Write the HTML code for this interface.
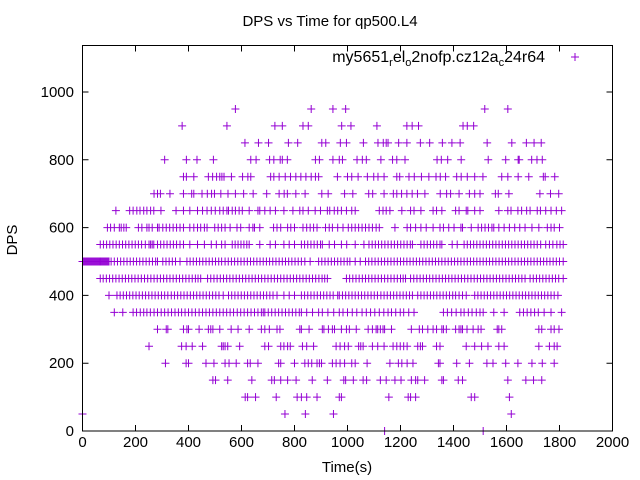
<!DOCTYPE html>
<html><head><meta charset="utf-8"><style>
body{margin:0;background:#fff}
svg{display:block;font-family:"Liberation Sans",sans-serif}
</style></head><body>
<svg id="chart" width="640" height="480" viewBox="0 0 640 480" xmlns="http://www.w3.org/2000/svg">
<rect width="640" height="480" fill="#fff"/>
<text x="330" y="26" text-anchor="middle" font-size="15">DPS vs Time for qp500.L4</text>
<text x="347" y="472" text-anchor="middle" font-size="15">Time(s)</text>
<text x="17" y="240" text-anchor="middle" font-size="15" transform="rotate(-90 17 240)">DPS</text>
<g id="ticks"></g>
<g id="marks"></g>
<g>
<text x="545" y="62" text-anchor="end" font-size="16">my5651<tspan font-size="11" dy="4">r</tspan><tspan dy="-4">el</tspan><tspan font-size="11" dy="4">o</tspan><tspan dy="-4">2nofp.cz12a</tspan><tspan font-size="11" dy="4">c</tspan><tspan dy="-4">24r64</tspan></text>
<path d="M571 57h8M575 53v8" stroke="#9400d3" stroke-width="1"/>
</g>
<rect x="82.5" y="45.5" width="530" height="385.5" fill="none" stroke="#000" stroke-width="1"/>
</svg>
<script>
const xTicks=[0,200,400,600,800,1000,1200,1400,1600,1800,2000];
const yTicks=[0,200,400,600,800,1000];
const levels=[0,50,100,150,200,250,300,350,400,450,500,550,600,650,700,750,800,850,900,950];
const t0=[1140,1512];
const t50=[0,764,841,947,1618];
const t100=[614,623,653,731,810,826,846,885,969,977,1156,1229,1238,1257,1467,1480,1611];
const t150=[492,502,548,639,714,724,748,774,806,867,924,986,993,1022,1059,1072,1124,1146,1179,1202,1241,1257,1265,1291,1356,1362,1418,1434,1605,1673,1702,1733];
const t200=[313,391,400,466,496,538,553,580,623,633,662,740,748,800,839,852,865,885,894,902,943,957,972,989,1016,1029,1074,1160,1192,1205,1225,1247,1343,1349,1412,1460,1526,1549,1597,1643,1696,1735,1780];
const t250=[251,374,391,414,453,525,531,538,548,593,688,702,748,760,774,784,830,846,872,957,972,989,1003,1042,1050,1059,1094,1114,1138,1172,1186,1199,1212,1225,1265,1275,1283,1336,1349,1448,1480,1506,1530,1571,1591,1722,1762,1780,1791];
const t300=[283,316,322,381,394,400,440,475,484,492,518,561,587,629,675,688,705,734,745,820,826,855,905,911,928,943,951,977,996,1007,1033,1078,1094,1108,1114,1124,1134,1140,1166,1241,1271,1283,1303,1323,1336,1356,1362,1373,1408,1421,1428,1434,1451,1474,1493,1504,1565,1571,1582,1722,1733,1768,1780,1798];
const t350=[120,152,191,204,218,231,243,256,270,283,297,310,323,336,349,362,374,387,400,413,426,440,453,466,479,492,505,518,531,544,557,570,584,597,610,623,636,649,662,675,682,688,701,714,727,740,753,766,779,792,805,818,826,846,868,891,905,926,948,969,983,1000,1018,1035,1055,1071,1087,1103,1120,1137,1153,1166,1182,1199,1212,1231,1251,1362,1377,1393,1410,1428,1440,1456,1470,1486,1500,1512,1552,1591,1650,1664,1678,1692,1706,1720,1742,1768,1808];
const t400=[100,130,142,154,166,178,190,202,214,226,238,250,262,274,286,298,310,322,335,347,359,371,383,395,407,419,431,443,455,467,479,491,503,515,531,551,563,575,587,599,611,623,635,647,659,671,683,695,707,719,734,760,780,800,826,838,850,862,874,886,898,910,922,934,946,963,969,981,993,1005,1017,1029,1041,1053,1065,1077,1089,1101,1113,1126,1138,1150,1162,1174,1186,1198,1210,1222,1234,1245,1265,1277,1289,1301,1313,1325,1337,1349,1361,1373,1385,1397,1408,1421,1434,1448,1480,1492,1504,1516,1528,1540,1552,1564,1576,1588,1600,1612,1624,1636,1648,1660,1672,1684,1696,1708,1720,1732,1744,1756,1768,1780,1794];
const t450=[67,78,90,102,114,126,138,150,162,174,186,198,210,222,234,246,258,270,282,294,306,318,330,342,354,366,378,390,402,414,426,436,446,472,484,496,508,520,532,544,556,568,580,592,604,616,628,640,652,664,676,688,700,712,724,736,748,760,772,784,796,808,820,832,844,856,868,880,892,904,914,924,996,1008,1020,1032,1044,1056,1068,1080,1092,1104,1116,1128,1140,1152,1164,1176,1188,1200,1210,1219,1238,1250,1262,1274,1286,1298,1310,1322,1334,1346,1358,1370,1382,1394,1406,1418,1430,1442,1454,1466,1478,1490,1502,1514,1526,1538,1550,1562,1574,1586,1598,1610,1622,1634,1646,1658,1670,1689,1701,1713,1725,1737,1749,1761,1773,1785,1797,1814];
const t500=[0,4,8,12,16,20,24,28,32,36,40,44,48,52,56,60,64,68,72,76,80,84,88,92,96,100,108,120,132,144,156,168,180,192,204,216,228,240,252,264,276,283,303,315,327,339,351,368,394,406,418,430,442,454,466,478,490,502,514,525,538,550,562,574,586,598,610,622,634,646,658,670,682,694,706,718,730,742,754,766,778,790,802,814,826,839,859,891,903,915,927,939,951,963,975,987,999,1009,1029,1048,1068,1080,1092,1104,1116,1128,1140,1152,1164,1176,1188,1200,1212,1224,1236,1248,1260,1272,1284,1296,1308,1320,1332,1344,1356,1368,1380,1392,1404,1416,1428,1440,1452,1464,1476,1488,1500,1512,1524,1536,1548,1560,1572,1584,1596,1608,1620,1632,1644,1656,1668,1680,1692,1704,1716,1728,1740,1752,1764,1776,1788,1800,1814];
const t550=[67,79,91,103,115,127,139,151,163,175,187,199,211,223,237,251,257,263,269,283,295,307,319,331,343,355,368,381,405,434,460,486,505,525,538,565,576,587,598,609,620,629,669,708,728,760,780,800,826,838,850,862,874,886,898,905,931,951,977,997,1029,1062,1081,1093,1105,1117,1129,1141,1153,1165,1177,1189,1201,1213,1225,1237,1245,1277,1289,1301,1313,1325,1337,1349,1356,1395,1414,1440,1452,1464,1476,1488,1500,1512,1524,1536,1548,1560,1572,1584,1596,1608,1620,1632,1644,1656,1668,1680,1692,1704,1716,1729,1748,1762,1775,1790,1802,1814];
const t600=[94,106,120,139,146,156,165,211,224,243,251,263,283,289,303,316,329,342,355,368,381,405,420,434,446,460,470,499,512,525,538,557,583,597,629,643,649,669,721,734,748,774,786,800,832,846,859,872,885,917,931,943,963,983,1003,1016,1029,1042,1055,1068,1081,1094,1108,1120,1179,1225,1238,1257,1277,1297,1323,1349,1362,1382,1402,1428,1434,1467,1493,1506,1519,1532,1545,1552,1571,1591,1611,1631,1650,1670,1696,1722,1754,1768,1780,1800];
const t650=[126,178,191,205,217,231,243,257,269,296,353,381,405,434,453,470,486,501,518,531,545,551,565,577,591,603,629,662,669,688,708,728,760,794,820,832,852,878,898,924,933,950,963,977,996,1016,1029,1120,1134,1146,1160,1205,1238,1251,1277,1323,1336,1356,1408,1421,1448,1454,1480,1500,1571,1605,1617,1643,1657,1676,1689,1716,1728,1748,1768,1788,1808];
const t700=[270,283,294,330,381,412,420,451,471,487,498,522,549,577,608,644,695,742,761,773,805,840,903,927,989,1020,1080,1095,1138,1173,1186,1204,1224,1244,1264,1292,1350,1374,1389,1421,1460,1480,1500,1558,1569,1609,1726,1766,1797];
const t750=[381,392,420,475,491,506,518,526,534,562,604,624,635,710,722,742,765,785,805,824,843,863,879,891,962,1000,1016,1040,1075,1099,1115,1138,1186,1197,1232,1252,1279,1307,1334,1350,1370,1412,1429,1452,1480,1511,1582,1605,1644,1684,1739,1746,1782];
const t800=[310,392,432,494,635,655,706,722,746,754,773,879,894,945,969,981,1036,1056,1071,1126,1170,1186,1217,1338,1354,1378,1429,1531,1597,1644,1648,1695,1715,1735];
const t850=[613,664,702,777,812,903,918,973,996,1060,1115,1135,1146,1153,1193,1224,1275,1310,1358,1394,1425,1527,1620,1675,1704,1731];
const t900=[376,545,726,754,832,852,978,1013,1111,1224,1244,1268,1436,1452,1476];
const t950=[577,863,945,993,1518,1605];
const series=[t0,t50,t100,t150,t200,t250,t300,t350,t400,t450,t500,t550,t600,t650,t700,t750,t800,t850,t900,t950];

const NS='http://www.w3.org/2000/svg';
const X0=82.5,X1=612.5,XMAX=2000,Y0=431,YPER=0.339;
function sx(t){return X0+(X1-X0)*t/XMAX;}
function sy(v){return Y0-v*YPER;}

const tg=document.getElementById('ticks');
xTicks.forEach(function(t){
  const x=sx(t);
  const p=document.createElementNS(NS,'path');
  p.setAttribute('d','M'+x+' 431v-6M'+x+' 45.5v6');
  p.setAttribute('stroke','#000');
  
  
  tg.appendChild(p);
  const l=document.createElementNS(NS,'text');
  l.setAttribute('x',x);l.setAttribute('y',447);
  l.setAttribute('text-anchor','middle');l.setAttribute('font-size','15');
  l.textContent=t;
  
  
  tg.appendChild(l);
});
yTicks.forEach(function(v){
  const y=sy(v);
  const p=document.createElementNS(NS,'path');
  p.setAttribute('d','M82.5 '+y+'h6M612.5 '+y+'h-6');
  p.setAttribute('stroke','#000');
  
  
  tg.appendChild(p);
  const l=document.createElementNS(NS,'text');
  l.setAttribute('x',74);l.setAttribute('y',y+5);
  l.setAttribute('text-anchor','end');l.setAttribute('font-size','15');
  l.textContent=v;
  
  
  tg.appendChild(l);
});

const mg=document.getElementById('marks');
let d='';
levels.forEach(function(v,i){
  series[i].forEach(function(t){
    const x=sx(t),y=sy(v);
    d+='M'+(x-4)+' '+y+'h8M'+x+' '+(y-4)+'v8';
  });
});
const pts=document.createElementNS(NS,'path');
pts.setAttribute('d',d);
pts.setAttribute('stroke','#9400d3');
pts.setAttribute('stroke-width','1');
pts.setAttribute('fill','none');


mg.appendChild(pts);
</script>
</body></html>
